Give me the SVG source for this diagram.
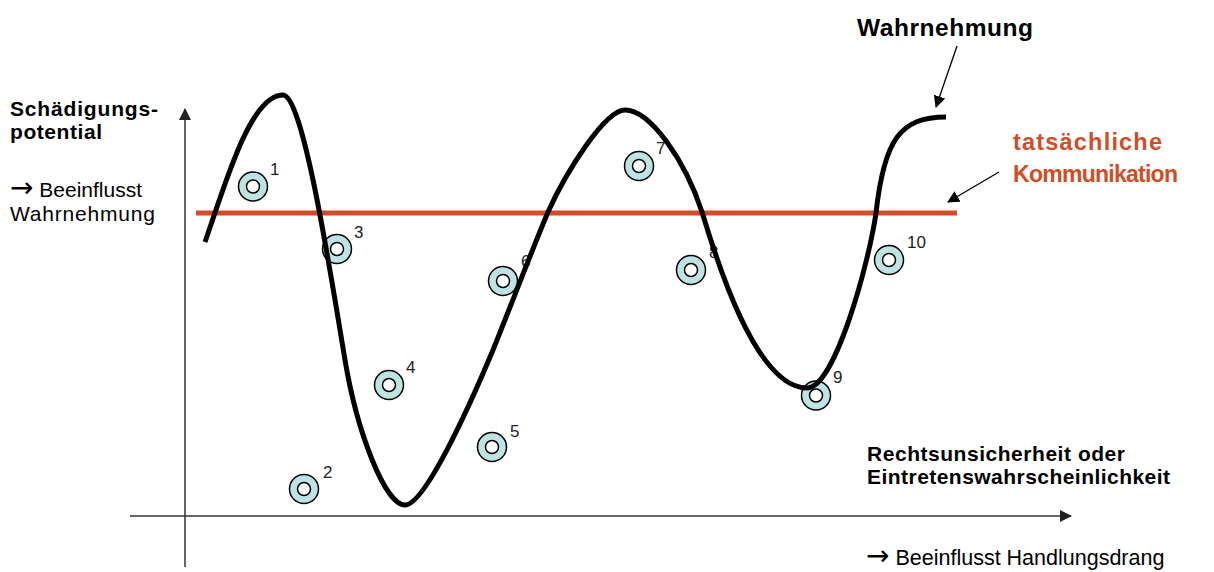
<svg xmlns="http://www.w3.org/2000/svg" width="1214" height="572" viewBox="0 0 1214 572">
<defs>
<style>
text{font-family:"Liberation Sans",Arial,sans-serif;}
.b{font-weight:bold;fill:#000;}
.r{fill:#000;}
.red{font-weight:bold;fill:#D24D25;}
.arr{font-family:"DejaVu Sans",sans-serif;font-size:28px;}
.num{font-size:17px;fill:#222;}
.axis{stroke:#333;stroke-width:1.5;fill:none;}
.ptr{stroke:#000;stroke-width:1.3;fill:none;}
.ring{fill:#BEE3E3;stroke:#000;stroke-width:1.5;}
.hole{fill:#fff;stroke:#000;stroke-width:1.5;}
</style>
<marker id="axh" viewBox="0 0 12 12" refX="11" refY="6" markerWidth="12" markerHeight="12" markerUnits="userSpaceOnUse" orient="auto">
<path d="M0,0 L12,6 L0,12 z" fill="#222"/>
</marker>
<marker id="ph" viewBox="0 0 12 12" refX="11" refY="6" markerWidth="12" markerHeight="12" markerUnits="userSpaceOnUse" orient="auto">
<path d="M0,0 L12,6 L0,12 z" fill="#000"/>
</marker>
</defs>
<rect width="1214" height="572" fill="#fff"/>

<g id="axes">
<line class="axis" x1="185" y1="567" x2="185" y2="109" marker-end="url(#axh)"/>
<line class="axis" x1="130" y1="516" x2="1071" y2="516" marker-end="url(#axh)"/>
</g>

<g id="axis-labels">
<text class="b" font-size="21" x="10" y="116" textLength="148" lengthAdjust="spacing">Schädigungs-</text>
<text class="b" font-size="21" x="10" y="139" textLength="92" lengthAdjust="spacing">potential</text>
<text class="r" font-size="21" x="10" y="197"><tspan class="arr">→</tspan> Beeinflusst</text>
<text class="r" font-size="21" x="10" y="221" textLength="145" lengthAdjust="spacing">Wahrnehmung</text>
<text class="b" font-size="21" x="867" y="461" textLength="258" lengthAdjust="spacing">Rechtsunsicherheit oder</text>
<text class="b" font-size="21" x="867" y="484" textLength="303" lengthAdjust="spacing">Eintretenswahrscheinlichkeit</text>
<text class="r" font-size="21.5" x="866" y="565"><tspan class="arr">→</tspan> Beeinflusst Handlungsdrang</text>
</g>

<g id="communication-line">
<line x1="196" y1="213" x2="957" y2="213" stroke="#D24D25" stroke-width="5"/>
</g>

<g id="labels">
<text class="num" x="270" y="175">1</text>
<text class="num" x="323" y="478">2</text>
<text class="num" x="354" y="238">3</text>
<text class="num" x="406" y="373">4</text>
<text class="num" x="510" y="437">5</text>
<text class="num" x="521" y="267">6</text>
<text class="num" x="656" y="154">7</text>
<text class="num" x="709" y="258">8</text>
<text class="num" x="833" y="383">9</text>
<text class="num" x="907" y="248">10</text>
</g>

<g id="points">
<g id="p1"><circle class="ring" cx="253" cy="186.5" r="14.5"/><circle class="hole" cx="253" cy="186.5" r="6.5"/></g>
<g id="p2"><circle class="ring" cx="304" cy="489" r="14.5"/><circle class="hole" cx="304" cy="489" r="6.5"/></g>
<g id="p3"><circle class="ring" cx="337" cy="249" r="14.5"/><circle class="hole" cx="337" cy="249" r="6.5"/></g>
<g id="p4"><circle class="ring" cx="389" cy="385" r="14.5"/><circle class="hole" cx="389" cy="385" r="6.5"/></g>
<g id="p5"><circle class="ring" cx="492" cy="447" r="14.5"/><circle class="hole" cx="492" cy="447" r="6.5"/></g>
<g id="p6"><circle class="ring" cx="503" cy="281" r="14.5"/><circle class="hole" cx="503" cy="281" r="6.5"/></g>
<g id="p7"><circle class="ring" cx="639" cy="166" r="14.5"/><circle class="hole" cx="639" cy="166" r="6.5"/></g>
<g id="p8"><circle class="ring" cx="691" cy="270" r="14.5"/><circle class="hole" cx="691" cy="270" r="6.5"/></g>
<g id="p9"><circle class="ring" cx="816" cy="395.5" r="14.5"/><circle class="hole" cx="816" cy="395.5" r="6.5"/></g>
<g id="p10"><circle class="ring" cx="889" cy="260" r="14.5"/><circle class="hole" cx="889" cy="260" r="6.5"/></g>
</g>

<g id="perception-curve">
<path d="M205,242 C225,185 250,95 283,95 C303,95 330,270 345,360 C357,432 385,505 405,505 C425,505 470,405 493,350 C510,308 530,255 548,212 C566,172 605,110 625,110 C650,110 685,160 702,212 C715,255 755,388 807,388 C835,388 869,262 876,213 C884,140 900,117 946,117" fill="none" stroke="#000" stroke-width="5" stroke-linecap="butt"/>
</g>

<g id="annotations">
<text class="b" font-size="24.5" x="857" y="36" textLength="176" lengthAdjust="spacing">Wahrnehmung</text>
<text class="red" font-size="23.5" x="1013" y="150" textLength="149" lengthAdjust="spacing">tatsächliche</text>
<text class="red" font-size="23" x="1013" y="182" textLength="165" lengthAdjust="spacing">Kommunikation</text>
</g>

<g id="connectors">
<line class="ptr" x1="957" y1="46" x2="936" y2="107" marker-end="url(#ph)"/>
<line class="ptr" x1="999" y1="172" x2="948" y2="202" marker-end="url(#ph)"/>
</g>
</svg>
